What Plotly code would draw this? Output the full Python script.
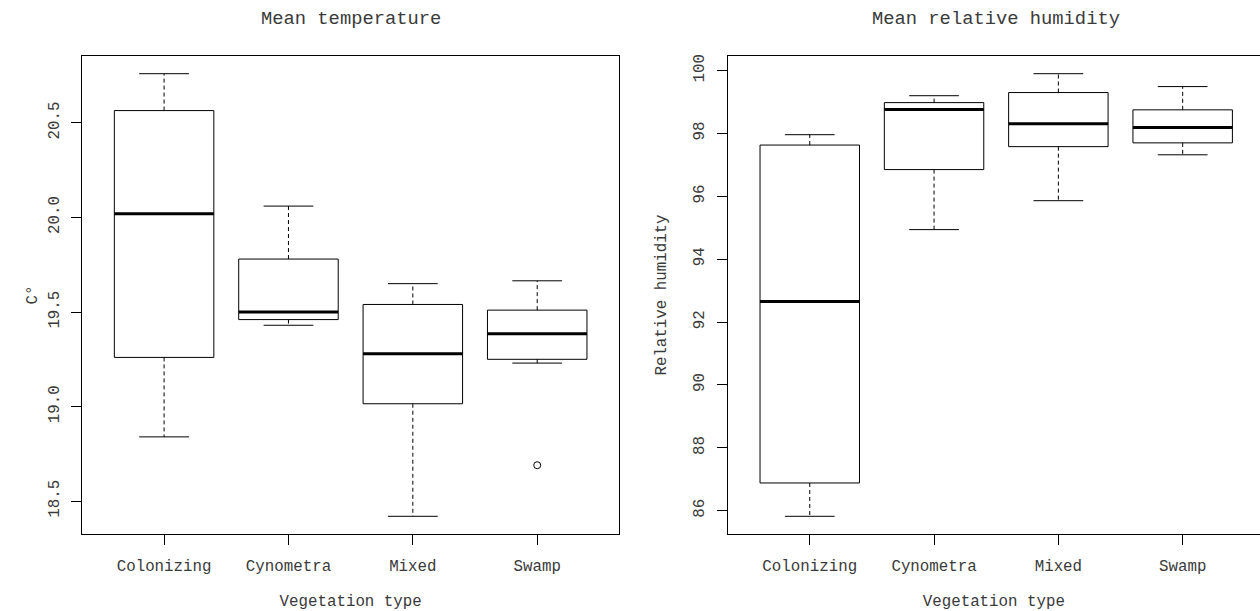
import plotly.graph_objects as go

# ---------------- data ----------------
categories = ["Colonizing", "Cynometra", "Mixed", "Swamp"]

temp_lower = [18.84, 19.43, 18.42, 19.23]
temp_q1 = [19.26, 19.46, 19.015, 19.25]
temp_median = [20.02, 19.50, 19.28, 19.385]
temp_q3 = [20.565, 19.78, 19.54, 19.51]
temp_upper = [20.76, 20.06, 19.65, 19.665]
temp_outlier_cat = ["Swamp"]
temp_outlier_val = [18.69]

hum_lower = [85.82, 94.94, 95.86, 97.32]
hum_q1 = [86.88, 96.85, 97.58, 97.70]
hum_median = [92.65, 98.76, 98.31, 98.19]
hum_q3 = [97.63, 98.98, 99.30, 98.75]
hum_upper = [97.96, 99.20, 99.90, 99.49]

temp_ticks = [18.5, 19.0, 19.5, 20.0, 20.5]
hum_ticks = [86, 88, 90, 92, 94, 96, 98, 100]

FONT = "Liberation Mono, Courier New, monospace"
TXT = "#3a3a3a"


def box_traces(lower, q1, med, q3, upper, xa, ya):
    bx, by, mx, my, wx, wy, cx, cy = [], [], [], [], [], [], [], []
    for i, _ in enumerate(categories):
        p = i + 1
        bx += [p - 0.4, p + 0.4, p + 0.4, p - 0.4, p - 0.4, None]
        by += [q1[i], q1[i], q3[i], q3[i], q1[i], None]
        mx += [p - 0.4, p + 0.4, None]
        my += [med[i], med[i], None]
        wx += [p, p, None, p, p, None]
        wy += [q3[i], upper[i], None, q1[i], lower[i], None]
        cx += [p - 0.2, p + 0.2, None, p - 0.2, p + 0.2, None]
        cy += [upper[i], upper[i], None, lower[i], lower[i], None]
    common = dict(mode="lines", xaxis=xa, yaxis=ya, showlegend=False, hoverinfo="skip")
    return [
        go.Scatter(x=wx, y=wy, line=dict(color="black", width=1, dash="4px,3px"), **common),
        go.Scatter(x=cx, y=cy, line=dict(color="black", width=1), **common),
        go.Scatter(x=bx, y=by, line=dict(color="black", width=1), **common),
        go.Scatter(x=mx, y=my, line=dict(color="black", width=3), **common),
    ]


fig = go.Figure()
for t in box_traces(temp_lower, temp_q1, temp_median, temp_q3, temp_upper, "x", "y"):
    fig.add_trace(t)
fig.add_trace(go.Scatter(
    x=[categories.index(c) + 1 for c in temp_outlier_cat], y=temp_outlier_val,
    mode="markers", marker=dict(symbol="circle-open", size=7, color="black", line=dict(width=1)),
    xaxis="x", yaxis="y", showlegend=False, hoverinfo="skip"))
for t in box_traces(hum_lower, hum_q1, hum_median, hum_q3, hum_upper, "x2", "y2"):
    fig.add_trace(t)


def ylim(vals_lo, vals_hi):
    lo = min(vals_lo)
    hi = max(vals_hi)
    d = (hi - lo) * 0.04
    return [lo - d, hi + d]


t_lo = temp_lower + temp_outlier_val
W, H = 1260, 611
ML, MT, MB = 82, 56, 77
PW = W - ML
PH = H - MT - MB

xcommon = dict(
    tickvals=[1, 2, 3, 4], ticktext=categories, ticks="outside", ticklen=10, tickwidth=1,
    tickcolor="black", showline=True, linecolor="black", linewidth=1, showgrid=False,
    zeroline=False, tickfont=dict(family=FONT, size=15.8, color=TXT), ticklabelstandoff=7,
    title=dict(text="Vegetation type", font=dict(family=FONT, size=15.8, color=TXT), standoff=25),
)
ycommon = dict(
    ticks="outside", ticklen=10, tickwidth=1, tickcolor="black", showline=True,
    linecolor="black", linewidth=1, showgrid=False, zeroline=False, tickangle=-90,
    tickfont=dict(family=FONT, size=15.8, color=TXT), ticklabelstandoff=6,
)

fig.update_layout(
    width=W, height=H,
    margin=dict(l=ML, r=0, t=MT, b=MB, pad=0),
    paper_bgcolor="white", plot_bgcolor="white",
    xaxis=dict(domain=[0, (619.3 - ML) / PW], range=[0.34, 4.66], anchor="y", mirror=True, **xcommon),
    yaxis=dict(domain=[0, 1], range=ylim(t_lo, temp_upper), anchor="x", mirror=True,
               tickvals=temp_ticks, ticktext=[f"{v:.1f}" for v in temp_ticks],
               title=dict(text="C°", font=dict(family=FONT, size=15.8, color=TXT), standoff=4),
               **ycommon),
    xaxis2=dict(domain=[(727.7 - ML) / PW, 1], range=[0.34, 4.622], anchor="y2", mirror=True, **xcommon),
    yaxis2=dict(domain=[0, 1], range=ylim(hum_lower, hum_upper), anchor="x2", mirror=False,
                tickvals=hum_ticks, ticktext=[str(v) for v in hum_ticks],
                title=dict(text="Relative humidity", font=dict(family=FONT, size=15.8, color=TXT), standoff=20),
                **ycommon),
    annotations=[
        dict(text="Mean temperature", x=((82.3 + 619.3) / 2 - ML) / PW, y=1 + (MT - 19) / PH,
             xref="paper", yref="paper", xanchor="center", yanchor="middle", showarrow=False,
             font=dict(family=FONT, size=18.8, color=TXT)),
        dict(text="Mean relative humidity", x=(996 - ML) / PW, y=1 + (MT - 19) / PH,
             xref="paper", yref="paper", xanchor="center", yanchor="middle", showarrow=False,
             font=dict(family=FONT, size=18.8, color=TXT)),
    ],
)

fig.write_html("out.html")
